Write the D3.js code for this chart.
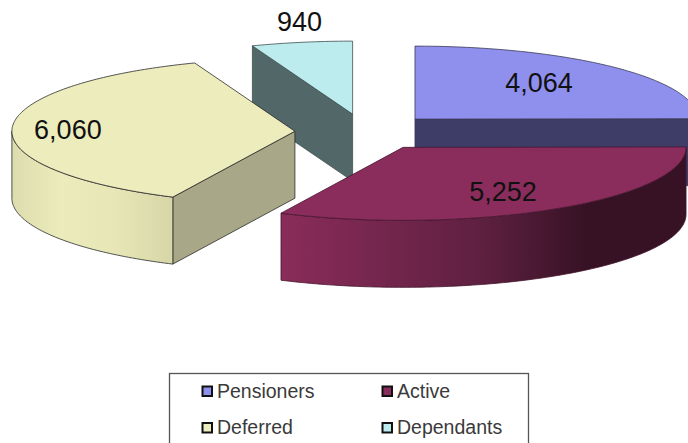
<!DOCTYPE html>
<html>
<head>
<meta charset="utf-8">
<script src="https://cdnjs.cloudflare.com/ajax/libs/d3/7.8.5/d3.min.js"></script>
<style>
    html, body { margin: 0; padding: 0; background: #fff; overflow: hidden; }
    svg { display: block; }
    text { font-family: "Liberation Sans", Arial, sans-serif; }
</style>
</head>
<body>
<div id="chart"></div>
<script>
'use strict';

// data, in the order the slices go round clockwise from 12 o'clock
const categories = ['Pensioners', 'Active', 'Deferred', 'Dependants'];
const values = [4064, 5252, 6060, 940];

// colours per slice
const topColors = ['#8f8fee', '#8b2d5c', '#ececbd', '#bcecee'];
const cutColors = ['#3e3d68', '#3e1428', '#a8a888', '#516768'];
const edgeColors = ['#3a3a55', '#45152e', '#2b2b2b', '#3f4f50'];
const wallStops = [
    [[0, '#3e3d68'], [1, '#3e3d68']],
    [[0, '#8a2c5a'], [0.5, '#5e2040'], [0.75, '#371225'], [1, '#371225']],
    [[0, '#dcdcae'], [0.3, '#ebebbb'], [0.65, '#e6e6b7'], [1, '#d6d6a8']],
    [[0, '#516768'], [1, '#516768']]
];

const width = 688;
const height = 443;

// the pie is a flattened disc, every slice pulled out along its middle angle
const pieCenter = {x: 365.3, y: 132};
const radiusX = 283;
const radiusY = 73;
const depth = 67;
const explode = 0.249;

// label centres as offset from the slice apex
const labelOffsets = [[124, -37], [100, 44], [-227, -2], [-53, -93]];

const svg = d3.select('#chart').append('svg')
    .attr('width', width)
    .attr('height', height);

const defs = svg.append('defs');

const unitX = d3.scaleLinear().domain([-1, 1]).range([-radiusX, radiusX]);
const unitY = d3.scaleLinear().domain([-1, 1]).range([radiusY, -radiusY]);

const pie = d3.pie().sort(null).value(d => d);
const slices = pie(values).map((d, i) => {
    const mid = (d.startAngle + d.endAngle) / 2;
    return {
        index: i,
        start: d.startAngle,
        end: d.endAngle,
        value: d.value,
        apexX: pieCenter.x + explode * unitX(Math.sin(mid)),
        apexY: pieCenter.y + explode * unitY(Math.cos(mid))
    };
});

const rimPoint = (s, a, drop) => [
    s.apexX + unitX(Math.sin(a)),
    s.apexY + unitY(Math.cos(a)) + (drop || 0)
];

const arcPoints = (a0, a1, s, drop) => {
    const n = Math.max(2, Math.ceil((a1 - a0) * 60));
    return d3.range(n + 1).map(k => rimPoint(s, a0 + (a1 - a0) * k / n, drop));
};

const line = d3.line();

const drawSlice = (g, s) => {
    const i = s.index;

    const face = (points, fill) => g.append('path')
        .attr('d', line(points) + 'Z')
        .attr('fill', fill)
        .attr('stroke', edgeColors[i])
        .attr('stroke-width', 0.8)
        .attr('stroke-linejoin', 'round');

    // cut faces, only those turned towards the viewer
    const cutFace = a => {
        const p = rimPoint(s, a);
        face([[s.apexX, s.apexY], p, [p[0], p[1] + depth], [s.apexX, s.apexY + depth]], cutColors[i]);
    };
    if(Math.sin(s.start) < -0.01) cutFace(s.start);
    if(Math.sin(s.end) > 0.01) cutFace(s.end);

    // outer wall, the part of the rim that lies on the front half
    const wall0 = Math.max(s.start, Math.PI / 2);
    const wall1 = Math.min(s.end, Math.PI * 1.5);
    if(wall1 > wall0){
        const gradId = 'wall' + i;
        const a = rimPoint(s, wall0);
        const b = rimPoint(s, wall1);
        const grad = defs.append('linearGradient')
            .attr('id', gradId)
            .attr('gradientUnits', 'userSpaceOnUse')
            .attr('x1', Math.min(a[0], b[0]))
            .attr('x2', Math.max(a[0], b[0]))
            .attr('y1', 0)
            .attr('y2', 0);
        wallStops[i].forEach(st => {
            grad.append('stop').attr('offset', st[0]).attr('stop-color', st[1]);
        });

        const upper = arcPoints(wall0, wall1, s, 0);
        const lower = arcPoints(wall0, wall1, s, depth).reverse();
        face(upper.concat(lower), 'url(#' + gradId + ')');
    }

    // top face
    face([[s.apexX, s.apexY]].concat(arcPoints(s.start, s.end, s, 0)), topColors[i]);
};

// back to front
[3, 0, 2, 1].forEach(i => {
    drawSlice(svg.append('g').attr('class', 'slice ' + categories[i]), slices[i]);
});

// value labels
const valueFormat = d3.format(',');
svg.append('g').selectAll('text')
    .data(slices)
    .join('text')
    .attr('x', d => d.apexX + labelOffsets[d.index][0])
    .attr('y', d => d.apexY + labelOffsets[d.index][1])
    .attr('dy', '0.36em')
    .attr('text-anchor', 'middle')
    .attr('font-size', 27)
    .attr('fill', '#111')
    .text(d => valueFormat(d.value));

// legend, its box runs off the bottom of the picture
const legend = svg.append('g');
legend.append('rect')
    .attr('x', 169.5)
    .attr('y', 373.5)
    .attr('width', 359)
    .attr('height', 90)
    .attr('fill', '#fff')
    .attr('stroke', '#555')
    .attr('stroke-width', 1.3);

const legendX = d3.scaleOrdinal().domain([0, 1]).range([202.5, 382.5]);
const legendY = d3.scaleOrdinal().domain([0, 1]).range([386.5, 423]);

const legendItem = legend.selectAll('g')
    .data(categories)
    .join('g')
    .attr('transform', (d, i) => 'translate(' + legendX(i % 2) + ',' + legendY(Math.floor(i / 2)) + ')');

legendItem.append('rect')
    .attr('width', 9.5)
    .attr('height', 9.5)
    .attr('fill', (d, i) => topColors[i])
    .attr('stroke', '#111')
    .attr('stroke-width', 2);

legendItem.append('text')
    .attr('x', 14.5)
    .attr('y', 11)
    .attr('font-size', 19.5)
    .attr('fill', '#3a3a3a')
    .text(d => d);
</script>
</body>
</html>
